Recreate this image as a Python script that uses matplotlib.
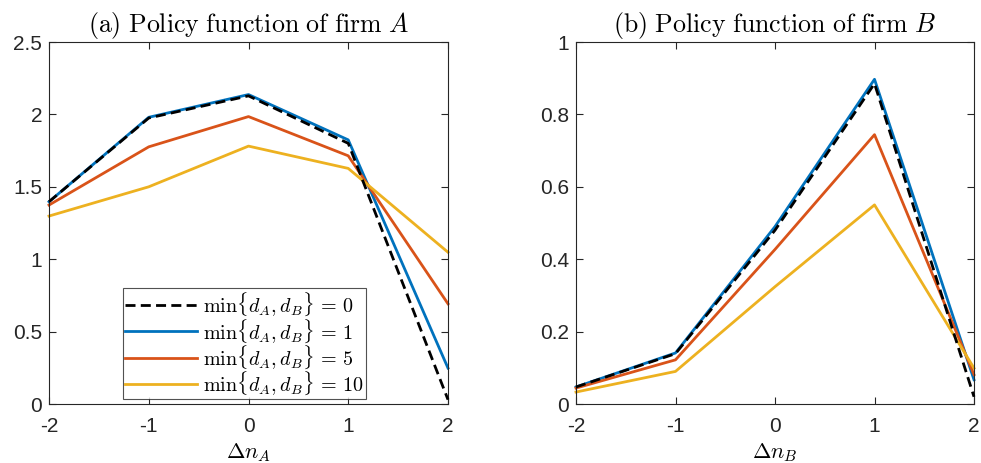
import matplotlib
matplotlib.use("Agg")
import matplotlib.pyplot as plt

plt.rcParams['mathtext.fontset'] = 'cm'
plt.rcParams['font.family'] = ['Liberation Sans', 'DejaVu Sans']

x = [-2, -1, 0, 1, 2]
labels = [r'$\min\{d_A,d_B\}\,=\,0$', r'$\min\{d_A,d_B\}\,=\,1$',
          r'$\min\{d_A,d_B\}\,=\,5$', r'$\min\{d_A,d_B\}\,=\,10$']

polA_0 = [1.397, 1.975, 2.128, 1.80, 0.03]
polA_1 = [1.397, 1.980, 2.137, 1.824, 0.248]
polA_5 = [1.374, 1.776, 1.985, 1.714, 0.692]
polA_10 = [1.298, 1.50, 1.781, 1.627, 1.048]

polB_0 = [0.047, 0.139, 0.48, 0.885, 0.02]
polB_1 = [0.047, 0.141, 0.49, 0.897, 0.067]
polB_5 = [0.044, 0.122, 0.427, 0.744, 0.081]
polB_10 = [0.033, 0.090, 0.324, 0.550, 0.099]

colors = ['black', '#0072BD', '#D95319', '#EDB120']
styles = [(0, (3.6, 1.9)), '-', '-', '-']

W, H = 981, 463
fig = plt.figure(figsize=(W/100, H/100), dpi=100)
axA = fig.add_axes([49/W, 1-404/H, 399/W, 362/H])
axB = fig.add_axes([576/W, 1-404/H, 398/W, 362/H])

axcol = '#262626'
for ax, series, ylim, yt, ytl, title, xl in [
    (axA, [polA_0, polA_1, polA_5, polA_10], (0, 2.5), [0, 0.5, 1, 1.5, 2, 2.5],
     ['0', '0.5', '1', '1.5', '2', '2.5'],
     r'$\mathrm{(a)\ Policy\ function\ of\ firm\ }A$', r'$\Delta n_A$'),
    (axB, [polB_0, polB_1, polB_5, polB_10], (0, 1), [0, 0.2, 0.4, 0.6, 0.8, 1],
     ['0', '0.2', '0.4', '0.6', '0.8', '1'],
     r'$\mathrm{(b)\ Policy\ function\ of\ firm\ }B$', r'$\Delta n_B$')]:
    order = [1, 2, 3, 0]
    handles = {}
    for i in order:
        h, = ax.plot(x, series[i], color=colors[i], linestyle=styles[i], lw=2.0,
                     zorder=3 if i == 0 else 2, clip_on=False)
        handles[i] = h
    ax.set_xlim(-2, 2)
    ax.set_ylim(*ylim)
    ax.set_xticks(x)
    ax.set_xticklabels(['-2', '-1', '0', '1', '2'])
    ax.set_yticks(yt)
    ax.set_yticklabels(ytl)
    ax.tick_params(direction='in', top=True, right=True, length=5, width=0.8,
                   colors=axcol, labelsize=15)
    ax.tick_params(axis='x', pad=9)
    ax.tick_params(axis='y', pad=5)
    for sp in ax.spines.values():
        sp.set_color(axcol)
        sp.set_linewidth(0.8)
    ax.set_title(title, fontsize=18.6, pad=7, color='black')
    ax.set_xlabel(xl, fontsize=16, labelpad=4)
    if ax is axA:
        leg = ax.legend([handles[i] for i in range(4)], labels, loc='lower left',
                        bbox_to_anchor=(0.185, 0.013), fontsize=14.5,
                        handlelength=3.6, handletextpad=0.3, labelspacing=-0.08,
                        borderpad=0.1, borderaxespad=0, frameon=True, fancybox=False)
        leg.get_frame().set_edgecolor(axcol)
        leg.get_frame().set_linewidth(0.8)

fig.savefig('out.png', dpi=100)
